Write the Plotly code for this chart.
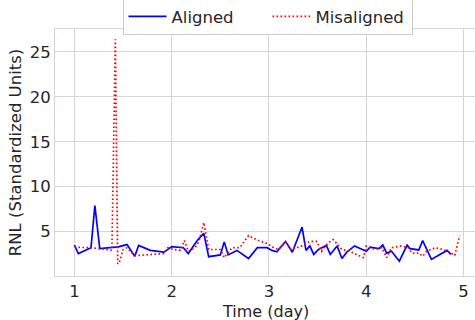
import plotly.graph_objects as go

# Aligned series (time in days, RNL standardized units)
aligned_t = [1.00, 1.04, 1.17, 1.21, 1.26, 1.45, 1.54, 1.62, 1.66, 1.78, 1.92, 2.00, 2.12, 2.17,
             2.27, 2.33, 2.38, 2.50, 2.54, 2.58, 2.67, 2.79, 2.88, 2.98, 3.03, 3.08, 3.17, 3.24,
             3.34, 3.38, 3.42, 3.46, 3.51, 3.59, 3.63, 3.70, 3.75, 3.80, 3.88, 4.00, 4.04, 4.13,
             4.17, 4.21, 4.26, 4.34, 4.42, 4.45, 4.54, 4.58, 4.67, 4.83, 4.87]
aligned_v = [3.5, 2.55, 3.2, 7.9, 3.1, 3.3, 3.55, 2.25, 3.45, 2.9, 2.7, 3.33, 3.2, 2.55,
             4.1, 4.8, 2.2, 2.4, 3.85, 2.4, 2.9, 2.0, 3.2, 3.2, 2.9, 2.75, 3.9, 2.7,
             5.5, 2.9, 3.4, 2.45, 3.0, 3.45, 2.45, 3.4, 2.0, 2.7, 3.4, 2.8, 3.25, 3.1,
             3.5, 2.6, 2.8, 1.7, 3.5, 3.1, 2.95, 4.0, 1.9, 2.9, 2.45]

# Misaligned series
misaligned_t = [1.00, 1.17, 1.33, 1.385, 1.42, 1.445, 1.46, 1.50, 1.54, 1.62, 1.67, 1.88, 1.92,
                1.96, 2.02, 2.09, 2.13, 2.17, 2.24, 2.28, 2.33, 2.38, 2.50, 2.54, 2.62, 2.70,
                2.79, 2.87, 2.98, 3.05, 3.10, 3.17, 3.23, 3.34, 3.42, 3.49, 3.54, 3.61, 3.66,
                3.72, 3.75, 3.83, 3.90, 3.97, 4.00, 4.09, 4.16, 4.21, 4.26, 4.36, 4.43, 4.47,
                4.54, 4.58, 4.62, 4.71, 4.79, 4.86, 4.91, 4.96]
misaligned_v = [3.25, 3.2, 3.0, 2.9, 26.4, 1.4, 1.5, 3.0, 3.2, 2.33, 2.35, 2.45, 2.55,
                3.2, 3.0, 2.9, 4.0, 2.8, 3.2, 3.9, 6.0, 3.0, 3.0, 2.1, 3.2, 3.2,
                4.55, 4.1, 3.67, 3.2, 3.0, 3.8, 3.0, 3.4, 3.9, 3.9, 2.8, 3.75, 4.1,
                3.4, 3.0, 2.8, 2.45, 2.1, 3.4, 3.0, 3.2, 2.1, 3.2, 3.4, 3.2, 2.6,
                2.6, 2.25, 2.8, 3.2, 3.0, 2.7, 2.33, 4.55]

x_ticks = [1, 2, 3, 4, 5]
y_ticks = [5, 10, 15, 20, 25]

FONT = "DejaVu Sans"
TXT = "#262626"
GRID = "#d5d5d5"
FS = 16.5

fig = go.Figure()
fig.add_trace(go.Scatter(x=aligned_t, y=aligned_v, mode="lines", name="Aligned",
                         line=dict(color="blue", width=1.7)))
fig.add_trace(go.Scatter(x=misaligned_t, y=misaligned_v, mode="lines", name="Misaligned",
                         line=dict(color="red", width=1.7, dash="1.6px,2.4px")))

fig.update_layout(
    width=475, height=320,
    margin=dict(l=55, r=0, t=29, b=44, autoexpand=False),
    paper_bgcolor="white", plot_bgcolor="white",
    font=dict(family=FONT, size=FS, color=TXT),
    legend=dict(orientation="h", x=0.506, xanchor="center", y=1.125, yanchor="top",
                bordercolor="#cccccc", borderwidth=1, bgcolor="white",
                font=dict(size=FS, color=TXT), entrywidth=91, itemwidth=38),
    showlegend=True,
    annotations=[dict(text="Time (day)", xref="paper", yref="paper", x=0.5, y=0,
                      xanchor="center", yanchor="top", yshift=-24, showarrow=False,
                      font=dict(size=16, color=TXT))],
)
fig.update_xaxes(range=[0.8, 5.118], tickvals=x_ticks, ticktext=[str(v) for v in x_ticks],
                 showgrid=True, gridcolor=GRID, gridwidth=1,
                 showline=True, linecolor=GRID, linewidth=1, mirror=True,
                 zeroline=False, ticks="", tickfont=dict(size=FS), automargin=False)
fig.update_yaxes(range=[0.05, 27.55], tickvals=y_ticks, ticktext=[str(v) for v in y_ticks],
                 showgrid=True, gridcolor=GRID, gridwidth=1,
                 showline=True, linecolor=GRID, linewidth=1, mirror=True,
                 zeroline=False, ticks="", tickfont=dict(size=FS), automargin=False,
                 title=dict(text="RNL (Standardized Units)", font=dict(size=FS), standoff=3))

fig.write_html("out.html", config={"displayModeBar": False},
               post_script="document.body.style.margin='0';")
